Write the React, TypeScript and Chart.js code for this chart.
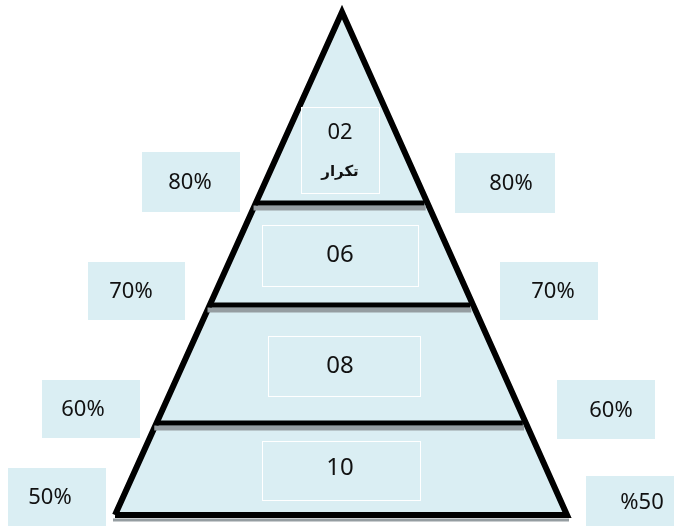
import React, { useEffect, useRef } from "react";
import { Chart, registerables } from "chart.js";

Chart.register(...registerables);

// ---- data ----
const levelValues = ["02", "06", "08", "10"];
const levelCaption = "تكرار";
const leftPercents = ["80%", "70%", "60%", "50%"];
const rightPercents = ["80%", "70%", "60%", "%50"];

// ---- layout (chart units, y grows downward) ----
const W = 674;
const H = 526;
const apex = { x: 342, y: 12 };
const baseY = 515;
const baseLeft = 115;
const baseRight = 567;
const dividerYs = [203, 305, 423];

const leftBoxes = [
  { x: 142, y: 152, w: 98, h: 60, tx: 190 },
  { x: 88, y: 262, w: 97, h: 58, tx: 131 },
  { x: 42, y: 380, w: 98, h: 58, tx: 83 },
  { x: 8, y: 468, w: 98, h: 58, tx: 50 },
];
const rightBoxes = [
  { x: 455, y: 153, w: 100, h: 60, tx: 511 },
  { x: 500, y: 262, w: 98, h: 58, tx: 553 },
  { x: 557, y: 380, w: 98, h: 59, tx: 611 },
  { x: 586, y: 476, w: 90, h: 52, tx: 642 },
];
const innerBoxes = [
  { x: 301, y: 107, w: 78, h: 86, ty: 133 },
  { x: 262, y: 225, w: 156, h: 61, ty: 255 },
  { x: 268, y: 336, w: 152, h: 60, ty: 366 },
  { x: 262, y: 441, w: 158, h: 59, ty: 468 },
];

const FILL = "#DAEEF3";
const SHADOW = "#959DA1";

function edgeX(y: number, side: "l" | "r") {
  const t = (y - apex.y) / (baseY - apex.y);
  const b = side === "l" ? baseLeft : baseRight;
  return apex.x + (b - apex.x) * t;
}

const labelsPlugin = {
  id: "pyramidLabels",
  afterDatasetsDraw(chart: any) {
    const { ctx, scales } = chart;
    const px = (v: number) => scales.x.getPixelForValue(v);
    const py = (v: number) => scales.y.getPixelForValue(v);
    ctx.save();
    ctx.textAlign = "center";
    ctx.textBaseline = "middle";
    const pctFont = '22px "Noto Sans", "DejaVu Sans", sans-serif';
    const drawSide = (boxes: any[], texts: string[]) => {
      boxes.forEach((b, i) => {
        const x0 = px(b.x), x1 = px(b.x + b.w);
        const y0 = py(b.y), y1 = py(b.y + b.h);
        ctx.fillStyle = FILL;
        ctx.fillRect(x0, y0, x1 - x0, y1 - y0);
        ctx.fillStyle = "#111";
        ctx.font = pctFont;
        ctx.fillText(texts[i], px(b.tx), (y0 + y1) / 2 + 1);
      });
    };
    drawSide(leftBoxes, leftPercents);
    drawSide(rightBoxes, rightPercents);

    innerBoxes.forEach((b, i) => {
      const x0 = px(b.x), x1 = px(b.x + b.w);
      const y0 = py(b.y), y1 = py(b.y + b.h);
      ctx.strokeStyle = "#ffffff";
      ctx.lineWidth = 1;
      ctx.strokeRect(Math.round(x0) + 0.5, Math.round(y0) + 0.5, x1 - x0, y1 - y0);
      ctx.fillStyle = "#111";
      ctx.font = i === 0 ? '22px "Noto Sans", sans-serif' : '24px "Noto Sans", sans-serif';
      ctx.fillText(levelValues[i], px(apex.x - 2), py(b.ty));
      if (i === 0) {
        ctx.font = 'bold 15px "DejaVu Sans", sans-serif';
        ctx.fillText(levelCaption, px(apex.x - 2), py(172));
      }
    });
    ctx.restore();
  },
};

export default function App() {
  const ref = useRef<HTMLCanvasElement | null>(null);
  useEffect(() => {
    document.body.style.margin = "0";
    if (!ref.current) return;
    const datasets: any[] = [];
    // triangle
    datasets.push({
      type: "line",
      data: [
        { x: baseLeft, y: baseY },
        { x: apex.x, y: apex.y },
        { x: baseRight, y: baseY },
        { x: baseLeft, y: baseY },
      ],
      fill: "shape",
      backgroundColor: FILL,
      borderColor: "#000",
      borderWidth: 6,
      borderJoinStyle: "miter",
      pointRadius: 0,
      tension: 0,
      clip: false,
      order: 3,
    });
    // base shadow
    datasets.push({
      type: "line",
      data: [
        { x: baseLeft - 2, y: baseY + 5 },
        { x: baseRight + 2, y: baseY + 5 },
      ],
      borderColor: SHADOW,
      borderWidth: 3,
      pointRadius: 0,
      fill: false,
      clip: false,
      order: 4,
    });
    dividerYs.forEach((y) => {
      datasets.push({
        type: "line",
        data: [
          { x: edgeX(y + 5, "l"), y: y + 5 },
          { x: edgeX(y + 5, "r") - 4, y: y + 5 },
        ],
        borderColor: SHADOW,
        borderWidth: 5,
        pointRadius: 0,
        fill: false,
        order: 2,
      });
      datasets.push({
        type: "line",
        data: [
          { x: edgeX(y, "l"), y },
          { x: edgeX(y, "r") - 3, y },
        ],
        borderColor: "#000",
        borderWidth: 5,
        pointRadius: 0,
        fill: false,
        order: 1,
      });
    });

    const chart = new Chart(ref.current, {
      type: "line",
      data: { datasets },
      options: {
        animation: false,
        responsive: false,
        maintainAspectRatio: false,
        layout: { padding: 0 },
        plugins: { legend: { display: false }, tooltip: { enabled: false } },
        scales: {
          x: { type: "linear", min: 0, max: W, display: false },
          y: { type: "linear", min: 0, max: H, reverse: true, display: false },
        },
      },
      plugins: [labelsPlugin],
    } as any);
    return () => chart.destroy();
  }, []);
  return <canvas ref={ref} width={W} height={H} style={{ display: "block" }} />;
}
